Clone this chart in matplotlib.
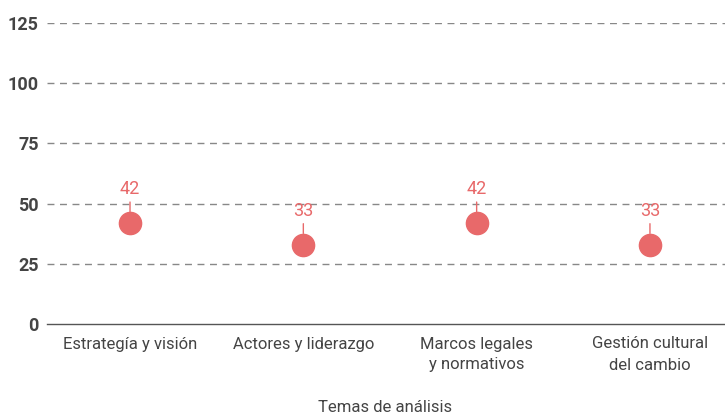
import matplotlib
matplotlib.use("Agg")
import matplotlib.pyplot as plt
import matplotlib.transforms as mtransforms

categories = ["Estrategía y visión", "Actores y liderazgo", "Marcos legales\ny normativos", "Gestión cultural\ndel cambio"]
values = [42, 33, 42, 33]
yticks = [0, 25, 50, 75, 100, 125]

red = "#E8696A"
plt.rcParams['font.family'] = ['Roboto', 'DejaVu Sans']

fig = plt.figure(figsize=(7.25, 4.16), dpi=100)
ax = fig.add_axes([47/725, 1-324/416, 1-47/725, (324-23)/416])

xs = list(range(len(categories)))
ax.plot(xs, values, 'o', color=red, markersize=16, zorder=3, clip_on=False)
for x, v in zip(xs, values):
    ax.annotate(str(v), xy=(x, v), xytext=(0, 18), textcoords='offset points',
                ha='center', va='bottom', color=red, fontsize=13,
                arrowprops=dict(arrowstyle='-', color=red, lw=1, shrinkA=1, shrinkB=8))

ax.set_ylim(0, 125)
ax.set_xlim(-0.479, 3.433)
ax.set_yticks(yticks)
ax.set_yticklabels([str(t) for t in yticks], fontsize=13, fontweight='semibold', color='#444444')
ax.set_xticks(xs)
ax.set_xticklabels(categories, fontsize=12, color='#444444', linespacing=1.5)
shift = mtransforms.ScaledTranslation(-4/100, 0, fig.dpi_scale_trans)
for lab in ax.get_xticklabels():
    lab.set_transform(lab.get_transform() + shift)
ax.tick_params(axis='both', length=0)
ax.tick_params(axis='y', pad=6)
ax.tick_params(axis='x', pad=9)
for y in yticks[1:]:
    ax.axhline(y, color='#888888', lw=1, ls=(0, (5, 4)), zorder=1)
for s in ['top', 'right', 'left']:
    ax.spines[s].set_visible(False)
ax.spines['bottom'].set_color('#555555')
ax.spines['bottom'].set_linewidth(1)
ax.set_xlabel("Temas de análisis", fontsize=12, color='#444444')
ax.xaxis.set_label_coords((385-47)/678, -(400-324)/301)

fig.savefig("out.png", dpi=100)
